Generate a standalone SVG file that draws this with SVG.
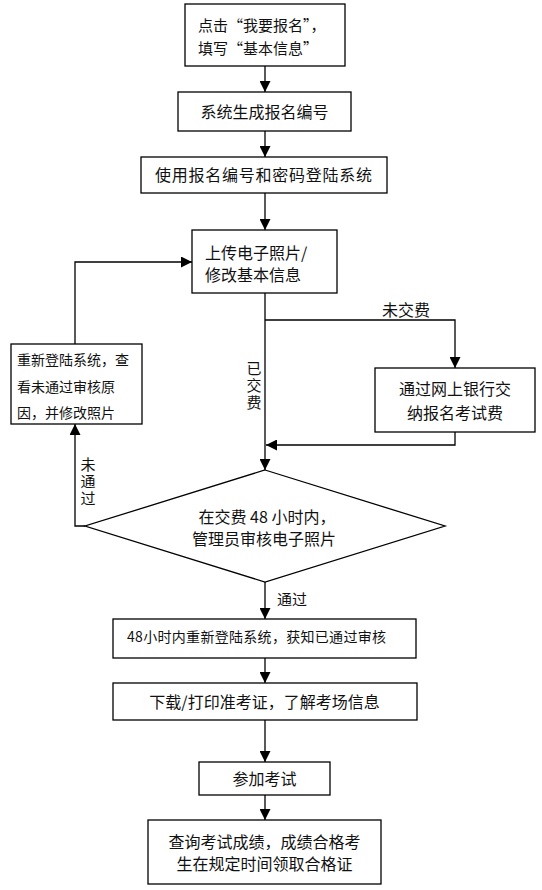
<svg xmlns="http://www.w3.org/2000/svg" width="542" height="890" viewBox="0 0 542 890">
<style>
.b{fill:#fff;stroke:#000;stroke-width:1.3}
.t{font-family:"Noto Sans CJK SC","Noto Sans",sans-serif;font-size:16px;fill:#111}
.s{font-size:14px}
.m{font-size:15px}
.v{writing-mode:vertical-rl;font-size:15px;letter-spacing:2px}
.c{fill:none;stroke:#000;stroke-width:1.3}
</style>
<defs>
<marker id="a" markerUnits="userSpaceOnUse" markerWidth="11" markerHeight="11" refX="10" refY="5" orient="auto" viewBox="0 0 10 10">
<path d="M0,0 L10,5 L0,10 z" fill="#000"/>
</marker>
</defs>
<rect width="542" height="890" fill="#fff"/>
<g id="connectors">
<path class="c" d="M265,66 V92" marker-end="url(#a)"/>
<path class="c" d="M265,131 V157" marker-end="url(#a)"/>
<path class="c" d="M265,193 V230" marker-end="url(#a)"/>
<path class="c" d="M265,293 V470" marker-end="url(#a)"/>
<path class="c" d="M265,320 H455 V368" marker-end="url(#a)" stroke="#3a2618"/>
<path class="c" d="M455,432 V445 H266" marker-end="url(#a)"/>
<path class="c" d="M85,526 H75 V424" marker-end="url(#a)"/>
<path class="c" d="M75,344 V262 H192" marker-end="url(#a)"/>
<path class="c" d="M265,582 V619" marker-end="url(#a)"/>
<path class="c" d="M265,658 V683" marker-end="url(#a)"/>
<path class="c" d="M265,720 V762" marker-end="url(#a)"/>
<path class="c" d="M265,795 V820" marker-end="url(#a)"/>
<text class="t" x="382" y="316">未交费</text>
<text class="t v" x="254" y="361">已交费</text>
<text class="t v" x="88" y="457">未通过</text>
<text class="t m" x="277" y="605">通过</text>
</g>
<g id="n1"><rect class="b" x="185" y="4" width="160" height="62"/>
<text class="t m" x="198" y="31">点击“我要报名”，</text>
<text class="t m" x="198" y="54">填写“基本信息”</text></g>
<g id="n2"><rect class="b" x="178" y="92" width="173" height="39"/>
<text class="t" x="264.5" y="118" text-anchor="middle">系统生成报名编号</text></g>
<g id="n3"><rect class="b" x="141" y="157" width="246" height="36"/>
<text class="t" x="155" y="181" textLength="217">使用报名编号和密码登陆系统</text></g>
<g id="n4"><rect class="b" x="192" y="230" width="145" height="63"/>
<text class="t" x="205" y="259">上传电子照片/</text>
<text class="t" x="205" y="281">修改基本信息</text></g>
<g id="n5"><rect class="b" x="11" y="344" width="131" height="80"/>
<text class="t s" x="17" y="365">重新登陆系统，查</text>
<text class="t s" x="17" y="392">看未通过审核原</text>
<text class="t s" x="17" y="418">因，并修改照片</text></g>
<g id="n6"><rect class="b" x="375" y="368" width="160" height="64"/>
<text class="t" x="455" y="395" text-anchor="middle">通过网上银行交</text>
<text class="t" x="455" y="419" text-anchor="middle">纳报名考试费</text></g>
<g id="n7"><polygon class="b" points="265,470 445,526 265,582 85,526"/>
<text class="t" x="267" y="523" text-anchor="middle">在交费 48 小时内，</text>
<text class="t" x="264" y="545" text-anchor="middle">管理员审核电子照片</text></g>
<g id="n8"><rect class="b" x="113" y="619" width="303" height="39"/>
<text class="t s" x="127" y="642" textLength="259">48小时内重新登陆系统，获知已通过审核</text></g>
<g id="n9"><rect class="b" x="113" y="683" width="304" height="37"/>
<text class="t" x="264.5" y="708" text-anchor="middle">下载/打印准考证，了解考场信息</text></g>
<g id="n10"><rect class="b" x="199" y="762" width="131" height="33"/>
<text class="t" x="264.5" y="785" text-anchor="middle">参加考试</text></g>
<g id="n11"><rect class="b" x="148" y="820" width="233" height="64"/>
<text class="t" x="264.5" y="848" text-anchor="middle">查询考试成绩，成绩合格考</text>
<text class="t" x="264.5" y="870" text-anchor="middle">生在规定时间领取合格证</text></g>
</svg>
